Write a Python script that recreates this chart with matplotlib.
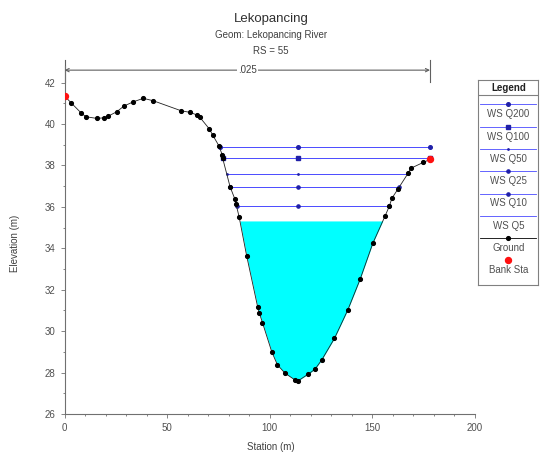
import numpy as np
import matplotlib
matplotlib.use("Agg")
import matplotlib.pyplot as plt

plt.rcParams['font.family'] = ['Liberation Sans', 'DejaVu Sans']

# ---- data ----
station = [0, 3.1, 8.0, 10.4, 15.7, 19.4, 21.3, 25.4, 29.0, 33.5, 38.4, 43.3,
           56.8, 61.2, 64.7, 66.0, 70.6, 72.2, 75.3, 76.9, 77.1, 80.7, 83.1,
           83.6, 85.1, 88.8, 94.2, 94.9, 96.5, 101.0, 103.8, 107.5, 112.4,
           114.0, 118.9, 122.1, 125.4, 131.6, 138.1, 144.1, 150.3, 156.3,
           158.4, 159.6, 162.5, 167.7, 168.8, 175.0, 178.2]
elevation = [41.35, 41.03, 40.54, 40.35, 40.27, 40.30, 40.38, 40.59, 40.87,
             41.07, 41.24, 41.12, 40.64, 40.56, 40.43, 40.32, 39.76, 39.47,
             38.94, 38.50, 38.34, 36.97, 36.36, 36.14, 35.52, 33.63, 31.15,
             30.89, 30.41, 29.01, 28.37, 27.97, 27.64, 27.61, 27.93, 28.16,
             28.61, 29.65, 31.02, 32.50, 34.24, 35.56, 36.04, 36.41, 36.85,
             37.65, 37.86, 38.15, 38.29]
bank_sta = [0, 178.2]
profiles = ['WS Q200', 'WS Q100', 'WS Q50', 'WS Q25', 'WS Q10', 'WS Q5']
ws_elev = [38.87, 38.36, 37.60, 36.96, 36.04, 35.32]
mann_n = ['.025']
mann_range = [0, 178.2]
x_ticks = [0, 50, 100, 150, 200]
y_ticks = [26, 28, 30, 32, 34, 36, 38, 40, 42]

W, H = 544, 455
fig = plt.figure(figsize=(W / 100, H / 100), dpi=100)
ax = fig.add_axes([64.6 / W, 1 - 414 / H, (474.7 - 64.6) / W, 348 / H])
ax.set_xlim(0, 200)
ax.set_ylim(26, 42.8)

st = np.array(station)
el = np.array(elevation)
k = int(np.argmin(el))


def crossings(ws):
    xl = st[0]
    for i in range(k, 0, -1):
        if el[i - 1] >= ws > el[i]:
            t = (ws - el[i]) / (el[i - 1] - el[i])
            xl = st[i] - t * (st[i] - st[i - 1])
            break
    xr = st[-1]
    for i in range(k, len(st) - 1):
        if el[i] < ws <= el[i + 1]:
            t = (ws - el[i]) / (el[i + 1] - el[i])
            xr = st[i] + t * (st[i + 1] - st[i])
            break
    return xl, xr


wl_color = '#4a4aff'
mk_color = '#2020a8'
markers = ['o', 's', '.', 'o', 'o', None]
msizes = [2.6, 3.0, 2.0, 2.3, 2.3, 0]

# Q5 fill
xl5, xr5 = crossings(ws_elev[-1])
mask = (st > xl5) & (st < xr5)
fx = np.concatenate([[xl5], st[mask], [xr5]])
fy = np.concatenate([[ws_elev[-1]], el[mask], [ws_elev[-1]]])
ax.fill_between(fx, fy, ws_elev[-1], color='#00ffff', lw=0, zorder=1)

for j, (name, ws) in enumerate(zip(profiles, ws_elev)):
    xl, xr = crossings(ws)
    if j < 5:
        ax.plot([xl, xr], [ws, ws], color=wl_color, lw=0.7, zorder=2)
        ax.plot([xl, st[k], xr], [ws, ws, ws], ls='none', marker=markers[j],
                ms=msizes[j], color=mk_color, zorder=3)

ax.plot(st, el, color='#202020', lw=0.6, marker='o', ms=2.7,
        markerfacecolor='black', markeredgecolor='black', zorder=4)
bank_el = np.interp(bank_sta, st, el)
ax.plot(bank_sta, bank_el, ls='none', marker='o', ms=4.3, color='#ff1010',
        zorder=5)

# Manning n bracket
yb = 42.6
ax.annotate('', xy=(mann_range[0], yb), xytext=(mann_range[1], yb),
            arrowprops=dict(arrowstyle='<->', color='#606060', lw=0.8,
                            mutation_scale=6, shrinkA=0, shrinkB=0),
            annotation_clip=False)
for xe in mann_range:
    ax.plot([xe, xe], [42.05, 43.1], color='#606060', lw=0.8, clip_on=False)
ax.text(np.mean(mann_range), yb, mann_n[0], ha='center', va='center',
        fontsize=7, color='#404040',
        bbox=dict(facecolor='white', edgecolor='none', pad=1))

for s in ['top', 'right']:
    ax.spines[s].set_visible(False)
for s in ['left', 'bottom']:
    ax.spines[s].set_color('#707070')
    ax.spines[s].set_linewidth(0.8)
ax.set_xticks(x_ticks)
ax.set_yticks(y_ticks)
ax.set_xticks(np.arange(0, 201, 10), minor=True)
ax.set_yticks(np.arange(26, 42.5, 1), minor=True)
ax.tick_params(which='both', direction='out', colors='#707070',
               labelcolor='#505050', labelsize=7, width=0.6)
ax.tick_params(which='major', length=3)
ax.tick_params(which='minor', length=1.5)

fig.text(271 / W, 1 - 447 / H, 'Station (m)', ha='center', va='center',
         fontsize=7, color='#404040')
fig.text(15 / W, 1 - 243 / H, 'Elevation (m)', ha='center', va='center',
         fontsize=7, color='#404040', rotation=90)
fig.text(271 / W, 1 - 19 / H, 'Lekopancing', ha='center', va='center',
         fontsize=9.5, color='#303030')
fig.text(271 / W, 1 - 35 / H, 'Geom: Lekopancing River', ha='center',
         va='center', fontsize=7, color='#404040')
fig.text(271 / W, 1 - 51 / H, 'RS = 55', ha='center', va='center',
         fontsize=7, color='#404040')

# legend box
lx0, lx1, ly0, ly1 = 478.3, 538.3, 80, 285
lg = fig.add_axes([lx0 / W, 1 - ly1 / H, (lx1 - lx0) / W, (ly1 - ly0) / H])
lg.set_xlim(lx0, lx1)
lg.set_ylim(ly1, ly0)
lg.set_xticks([])
lg.set_yticks([])
for s in lg.spines.values():
    s.set_color('#808080')
    s.set_linewidth(0.8)
lg.text((lx0 + lx1) / 2, 88, 'Legend', ha='center', va='center',
        fontsize=7, color='#202020', fontweight='bold')
lg.plot([lx0, lx1], [95, 95], color='#808080', lw=0.8)
entries = profiles + ['Ground', 'Bank Sta']
xm = (lx0 + lx1) / 2
for i, name in enumerate(entries):
    yl = 104.3 + 22.3 * i
    if i < 6:
        lg.plot([lx0 + 2, lx1 - 2], [yl, yl], color=wl_color, lw=0.6)
        if markers[i]:
            lg.plot([xm], [yl], marker=markers[i], ms=msizes[i],
                    color=mk_color, ls='none')
    elif name == 'Ground':
        lg.plot([lx0 + 2, lx1 - 2], [yl, yl], color='black', lw=0.6)
        lg.plot([xm], [yl], marker='o', ms=2.7, color='black')
    else:
        lg.plot([xm], [yl], marker='o', ms=4.3, color='#ff1010')
    lg.text(xm, yl + 10, name, ha='center', va='center', fontsize=7,
            color='#505050')

fig.savefig('out.png', dpi=100)
